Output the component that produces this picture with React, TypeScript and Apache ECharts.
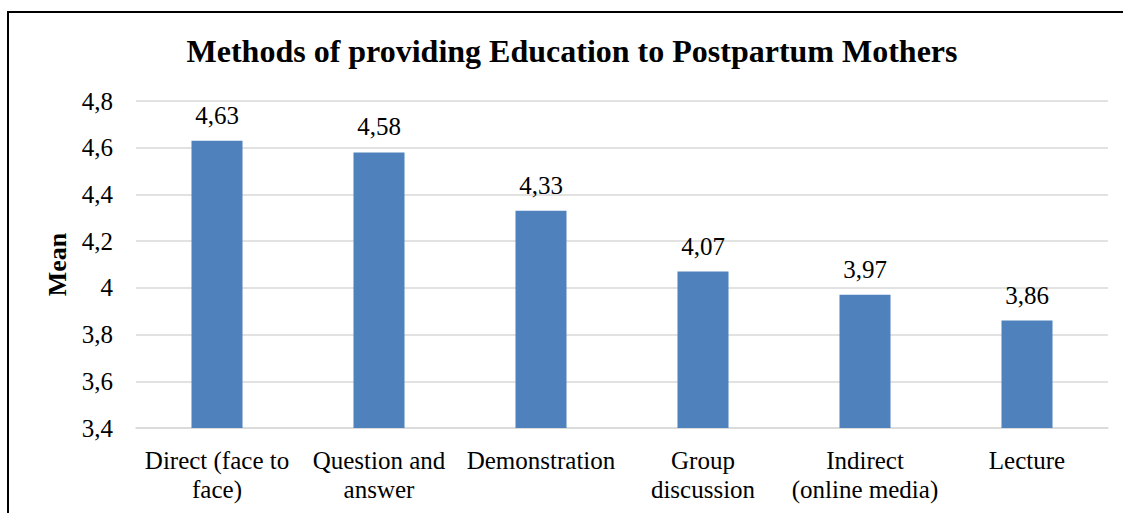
import React, { useEffect, useRef } from "react";
import * as echarts from "echarts";

const categories: string[] = [
  "Direct (face to\nface)",
  "Question and\nanswer",
  "Demonstration",
  "Group\ndiscussion",
  "Indirect\n(online media)",
  "Lecture",
];
const meanValues: number[] = [4.63, 4.58, 4.33, 4.07, 3.97, 3.86];
const titleText = "Methods of providing Education to Postpartum Mothers";
const yAxisName = "Mean";
const yMin = 3.4;
const yMax = 4.8;
const yStep = 0.2;

const fmt = (v: number) => {
  const r = Math.round(v * 100) / 100;
  return String(r).replace(".", ",");
};

const FONT = "Liberation Serif";

export default function App() {
  const ref = useRef<HTMLDivElement>(null);
  useEffect(() => {
    if (!ref.current) return;
    const chart = echarts.init(ref.current, undefined, { renderer: "svg" });
    chart.setOption({
      animation: false,
      backgroundColor: "#ffffff",
      textStyle: { fontFamily: FONT },
      graphic: [
        {
          type: "rect",
          shape: { x: 8, y: 12, width: 1200, height: 600 },
          style: { fill: "none", stroke: "#000000", lineWidth: 2 },
          silent: true,
          z: 100,
        },
        {
          type: "text",
          x: 572,
          y: 51,
          style: {
            text: titleText,
            fontFamily: FONT,
            fontSize: 32,
            fontWeight: "bold",
            fill: "#000000",
            textAlign: "center",
            textVerticalAlign: "middle",
          },
        },
      ],
      grid: { left: 136, right: 15, top: 101, bottom: 85, containLabel: false },
      xAxis: {
        type: "category",
        data: categories,
        axisLine: { show: true, lineStyle: { color: "#d9d9d9", width: 1.5 } },
        axisTick: { show: false },
        axisLabel: {
          interval: 0,
          margin: 18,
          color: "#000000",
          fontFamily: FONT,
          fontSize: 25,
          lineHeight: 29,
        },
      },
      yAxis: {
        type: "value",
        min: yMin,
        max: yMax,
        interval: yStep,
        name: yAxisName,
        nameLocation: "middle",
        nameGap: 66,
        nameRotate: 90,
        nameTextStyle: {
          fontFamily: FONT,
          fontSize: 26,
          fontWeight: "bold",
          color: "#000000",
        },
        axisLine: { show: false },
        axisTick: { show: false },
        axisLabel: {
          margin: 23,
          color: "#000000",
          fontFamily: FONT,
          fontSize: 25,
          formatter: (v: number) => fmt(v),
        },
        splitLine: { lineStyle: { color: "#d9d9d9", width: 1.5 } },
      },
      series: [
        {
          type: "bar",
          data: meanValues,
          barWidth: "31.5%",
          itemStyle: { color: "#4F81BD" },
          label: {
            show: true,
            position: "top",
            distance: 13,
            color: "#000000",
            fontFamily: FONT,
            fontSize: 25,
            formatter: (p: any) => fmt(p.value),
          },
        },
      ],
    });
    return () => chart.dispose();
  }, []);
  return (
    <div
      ref={ref}
      style={{ position: "absolute", left: 0, top: 0, width: 1123, height: 513 }}
    />
  );
}
